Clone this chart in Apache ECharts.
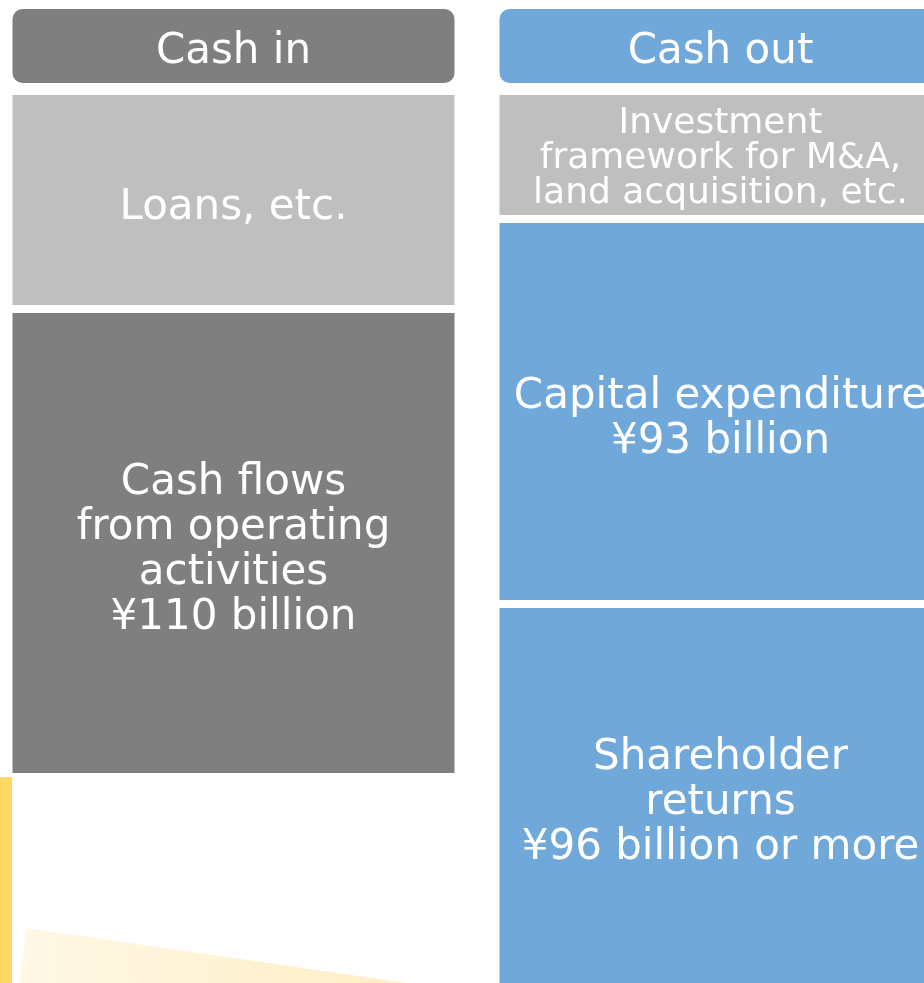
<!DOCTYPE html>
<html>
<head>
<meta charset="utf-8">
<title>Cash allocation</title>
<script src="https://cdn.jsdelivr.net/npm/echarts@6/dist/echarts.min.js"></script>
<style>
    html, body { margin: 0; padding: 0; background: #fff; }
    #J_chartBox { width: 924px; height: 983px; }
</style>
</head>
<body>
<div id="J_chartBox"></div>
<script>
// columns
var columns = ['Cash in', 'Cash out']
var headerColors = ['#7f7f7f', '#70a8da']
var headerSize = [74, 74]

// cash in blocks (top to bottom)
var cashInItems = ['Loans, etc.', 'Cash flows\nfrom operating\nactivities\n¥110 billion']
var cashInSizes = [210, 460]
var cashInColors = ['#bfbfbf', '#7f7f7f']

// cash out blocks (top to bottom)
var cashOutItems = ['Investment\nframework for M&A,\nland acquisition, etc.', 'Capital expenditure\n¥93 billion', 'Shareholder\nreturns\n¥96 billion or more']
var cashOutSizes = [120, 377, 382]
var cashOutColors = ['#bfbfbf', '#70a8da', '#70a8da']

var FONT = '"DejaVu Sans", "Noto Sans", sans-serif'

function labelFor(text, size, lh, dy) {
    return {
        show: true,
        position: 'inside',
        offset: [0, dy || 0],
        color: '#fff',
        fontFamily: FONT,
        fontSize: size,
        lineHeight: lh,
        align: 'center',
        formatter: function () { return text }
    }
}

var series = []
// header row
series.push({
    type: 'bar',
    stack: 'col',
    barWidth: 442,
    silent: true,
    data: columns.map(function (c, i) {
        return {
            value: headerSize[i],
            itemStyle: { color: headerColors[i], borderRadius: 10 },
            label: labelFor(c, 42, 44, 6)
        }
    })
})

var cols = [
    { items: cashInItems, sizes: cashInSizes, colors: cashInColors },
    { items: cashOutItems, sizes: cashOutSizes, colors: cashOutColors }
]
for (var k = 0; k < 3; k++) {
    // white gap above each block
    series.push({
        type: 'bar',
        stack: 'col',
        barWidth: 442,
        silent: true,
        itemStyle: { color: 'rgba(0,0,0,0)' },
        data: cols.map(function (c) {
            return k < c.sizes.length ? (k === 0 ? 12 : 8) : '-'
        })
    })
    series.push({
        type: 'bar',
        stack: 'col',
        barWidth: 442,
        silent: true,
        data: cols.map(function (c) {
            if (k >= c.sizes.length) return '-'
            var small = c.items[k].indexOf('Investment') === 0
            return {
                value: c.sizes[k],
                itemStyle: { color: c.colors[k] },
                label: small ? labelFor(c.items[k], 36, 35, 4) : labelFor(c.items[k], 42, 45, 8)
            }
        })
    })
}

var option = {
    animation: false,
    backgroundColor: '#fff',
    // two 487px bands, first centred at x = 234
    grid: { left: -10, width: 974, top: 9, bottom: 0, outerBoundsMode: 'none' },
    xAxis: { type: 'category', data: columns, show: false },
    yAxis: { type: 'value', inverse: true, min: 0, max: 974, show: false },
    graphic: [
        // yellow accent bar at the left edge
        { type: 'rect', shape: { x: 0, y: 777, width: 12, height: 210 }, style: { fill: '#ffd966' }, z: 0 },
        // faint yellow band at the bottom
        {
            type: 'polygon',
            shape: { points: [[26, 928], [420, 985], [19, 985]] },
            style: {
                fill: new echarts.graphic.LinearGradient(0, 0, 1, 0, [
                    { offset: 0, color: '#fff8e6' },
                    { offset: 1, color: '#ffeec4' }
                ])
            },
            z: 0
        }
    ],
    series: series
}

var chart = echarts.init(document.getElementById('J_chartBox'))
chart.setOption(option)
window.addEventListener('resize', function () {
    chart.resize()
})
</script>
</body>
</html>
